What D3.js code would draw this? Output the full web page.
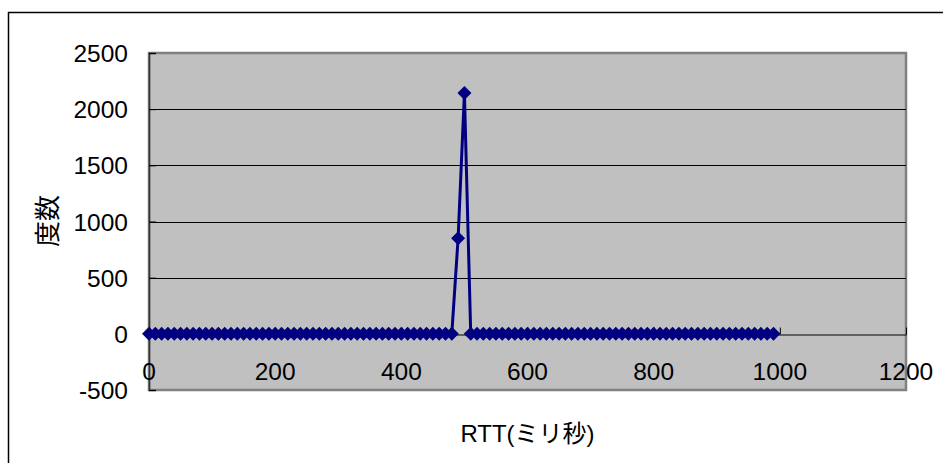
<!DOCTYPE html>
<html>
<head>
<meta charset="utf-8">
<script src="https://cdn.jsdelivr.net/npm/d3@7"></script>
<style>
  body { margin: 0; background: #fff; }
  text { font-family: "Liberation Sans", Arial, "Noto Sans CJK JP", sans-serif; fill: #000; }
</style>
</head>
<body>
<div id="chart"></div>
<script>
// RTT (ms) bins and their frequency
const rttMs = [0, 10, 20, 30, 40, 50, 60, 70, 80, 90,
  100, 110, 120, 130, 140, 150, 160, 170, 180, 190,
  200, 210, 220, 230, 240, 250, 260, 270, 280, 290,
  300, 310, 320, 330, 340, 350, 360, 370, 380, 390,
  400, 410, 420, 430, 440, 450, 460, 470, 480, 490,
  500, 510, 520, 530, 540, 550, 560, 570, 580, 590,
  600, 610, 620, 630, 640, 650, 660, 670, 680, 690,
  700, 710, 720, 730, 740, 750, 760, 770, 780, 790,
  800, 810, 820, 830, 840, 850, 860, 870, 880, 890,
  900, 910, 920, 930, 940, 950, 960, 970, 980, 990]
const counts = [0, 0, 0, 0, 0, 0, 0, 0, 0, 0,
  0, 0, 0, 0, 0, 0, 0, 0, 0, 0,
  0, 0, 0, 0, 0, 0, 0, 0, 0, 0,
  0, 0, 0, 0, 0, 0, 0, 0, 0, 0,
  0, 0, 0, 0, 0, 0, 0, 0, 0, 850,
  2143, 0, 0, 0, 0, 0, 0, 0, 0, 0,
  0, 0, 0, 0, 0, 0, 0, 0, 0, 0,
  0, 0, 0, 0, 0, 0, 0, 0, 0, 0,
  0, 0, 0, 0, 0, 0, 0, 0, 0, 0,
  0, 0, 0, 0, 0, 0, 0, 0, 0, 0]
const xTicks = [0, 200, 400, 600, 800, 1000, 1200]
const yTicks = [-500, 0, 500, 1000, 1500, 2000, 2500]

const w = 943
const h = 463
const plot = { left: 149, top: 53, right: 906, bottom: 390 }

const svg = d3.select("#chart")
              .append("svg")
              .attr("width", w)
              .attr("height", h)

// chart border (runs off the right/bottom edge like the original)
svg.append("rect")
   .attr("x", 8.5).attr("y", 12.5)
   .attr("width", 960).attr("height", 480)
   .attr("fill", "#fff")
   .attr("stroke", "#000")
   .attr("stroke-width", 1.5)

const x = d3.scaleLinear().domain([0, 1200]).range([plot.left, plot.right])
const y = d3.scaleLinear().domain([-500, 2500]).range([plot.bottom, plot.top])

// plot area
svg.append("rect")
   .attr("x", plot.left).attr("y", plot.top)
   .attr("width", plot.right - plot.left)
   .attr("height", plot.bottom - plot.top)
   .attr("fill", "#c0c0c0")
   .attr("stroke", "#808080")
   .attr("stroke-width", 2.5)

// horizontal gridlines
svg.append("g")
   .selectAll("line")
   .data(yTicks.filter(d => d > -500 && d < 2500 && d !== 0))
   .enter()
   .append("line")
   .attr("x1", plot.left).attr("x2", plot.right)
   .attr("y1", d => Math.round(y(d)) + 0.5)
   .attr("y2", d => Math.round(y(d)) + 0.5)
   .attr("stroke", "#000")
   .attr("stroke-width", 1)

// y axis: inside ticks, labels on the left
const yAxis = svg.append("g")
   .attr("transform", `translate(${plot.left},0)`)
   .call(d3.axisRight(y).tickValues(yTicks).tickSize(7).tickFormat(""))
yAxis.select(".domain").attr("stroke", "#333").attr("stroke-width", 1.5)
yAxis.selectAll(".tick line").attr("stroke", "#000")

svg.append("g")
   .selectAll("text")
   .data(yTicks)
   .enter()
   .append("text")
   .attr("x", 128)
   .attr("y", d => y(d) + 9)
   .attr("text-anchor", "end")
   .attr("font-size", 24.5)
   .text(d => d)

// x axis sits on the zero line, ticks point up
const xAxis = svg.append("g")
   .attr("transform", `translate(0,${Math.round(y(0)) + 0.5})`)
   .call(d3.axisTop(x).tickValues(xTicks).tickSize(7).tickSizeOuter(0).tickFormat(""))
xAxis.select(".domain").attr("stroke", "#000").attr("stroke-width", 1.2)
xAxis.selectAll(".tick line").attr("stroke", "#000")

svg.append("g")
   .selectAll("text")
   .data(xTicks)
   .enter()
   .append("text")
   .attr("x", d => x(d))
   .attr("y", 380)
   .attr("text-anchor", "middle")
   .attr("font-size", 24.5)
   .text(d => d)

// series line
const line = d3.line()
   .x((d, i) => x(rttMs[i]))
   .y(d => y(d))

svg.append("path")
   .datum(counts)
   .attr("d", line)
   .attr("fill", "none")
   .attr("stroke", "#000080")
   .attr("stroke-width", 3)

// diamond markers
const diamond = d3.symbol().type(d3.symbolDiamond2).size(125)
svg.append("g")
   .selectAll("path")
   .data(counts)
   .enter()
   .append("path")
   .attr("d", diamond)
   .attr("transform", (d, i) => `translate(${x(rttMs[i])},${y(d)})`)
   .attr("fill", "#000080")

// axis titles
svg.append("text")
   .attr("transform", "translate(57,221) rotate(-90)")
   .attr("text-anchor", "middle")
   .attr("font-size", 26)
   .text("度数")

svg.append("text")
   .attr("x", (plot.left + plot.right) / 2)
   .attr("y", 442)
   .attr("text-anchor", "middle")
   .attr("font-size", 24)
   .text("RTT(ミリ秒)")
</script>
</body>
</html>
